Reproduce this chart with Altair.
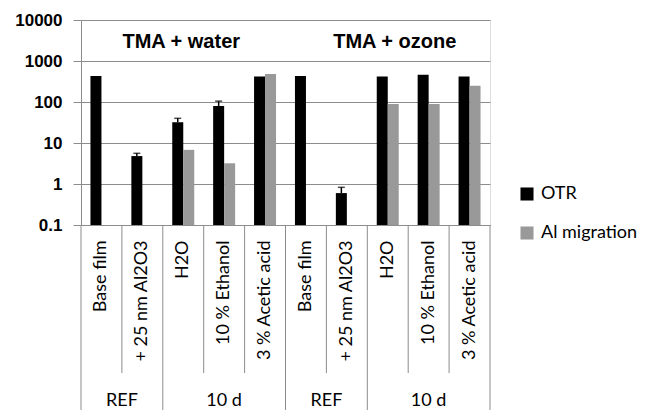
import altair as alt
import pandas as pd

# ---- data ----
cat_ids = ["w1", "w2", "w3", "w4", "w5", "o1", "o2", "o3", "o4", "o5"]
cat_labels = ["Base film", "+ 25 nm Al2O3", "H2O", "10 % Ethanol", "3 % Acetic acid",
              "Base film", "+ 25 nm Al2O3", "H2O", "10 % Ethanol", "3 % Acetic acid"]
otr = [430, 4.8, 32, 80, 420, 430, 0.6, 420, 460, 420]
al_migration = [None, None, 6.8, 3.2, 480, None, None, 90, 90, 250]
otr_err_hi = [None, 5.6, 40, 105, None, None, 0.83, None, None, None]
series = ["OTR", "Al migration"]
colors = ["#000000", "#999999"]
y_ticks = [0.1, 1, 10, 100, 1000, 10000]

# group annotations
treat_titles = ["TMA + water", "TMA + ozone"]
treat_pos = ["w3", "o3"]
group_names = ["REF", "10 d", "REF", "10 d"]
group_pos = ["w2", "w4", "o2", "o4"]
group_band = [0, 0.5, 0, 0.5]
short_div = ["w2", "w4", "w5", "o2", "o4", "o5"]
long_div = ["w1", "w3", "o1", "o3"]

# ---- tables ----
rows = []
for c, o, a in zip(cat_ids, otr, al_migration):
    rows.append({"cat": c, "series": "OTR", "value": o})
    if a is not None:
        rows.append({"cat": c, "series": "Al migration", "value": a})
bars_df = pd.DataFrame(rows)
err_df = pd.DataFrame([{"cat": c, "value": o, "hi": e}
                       for c, o, e in zip(cat_ids, otr, otr_err_hi) if e is not None])

label_expr = "[" + ",".join("'%s'" % l for l in cat_labels) + "][indexof([" + \
    ",".join("'%s'" % c for c in cat_ids) + "], datum.value)]"

LABEL_FONT = "Lato"
GRID = "#8c8c8c"

x_scale = alt.Scale(domain=cat_ids, paddingInner=0, paddingOuter=0)
y_scale = alt.Scale(type="log", domain=[0.1, 10000], nice=False)

bars = alt.Chart(bars_df).mark_bar().encode(
    x=alt.X("cat:N", scale=x_scale, sort=cat_ids,
            axis=alt.Axis(title=None, labelExpr=label_expr, labelAngle=270,
                          labelAlign="right", labelBaseline="middle",
                          labelPadding=15, ticks=False, domainColor=GRID,
                          labelFont=LABEL_FONT, labelFontSize=18, labelColor="#000")),
    xOffset=alt.XOffset("series:N", sort=series,
                        scale=alt.Scale(domain=series, paddingOuter=0.86, paddingInner=0)),
    y=alt.Y("value:Q", scale=y_scale,
            axis=alt.Axis(title=None, values=y_ticks, format="~g",
                          labelFont="Liberation Sans", labelFontWeight="bold",
                          labelFontSize=17, labelColor="#000", labelPadding=11,
                          tickSize=8, tickColor=GRID, domainColor=GRID,
                          gridColor=GRID, gridOpacity=1)),
    y2=alt.datum(0.1),
    color=alt.Color("series:N", sort=series,
                    scale=alt.Scale(domain=series, range=colors),
                    legend=alt.Legend(title=None, orient="none", legendX=437, legendY=165,
                                      symbolType="square", symbolSize=170,
                                      symbolStrokeWidth=0, labelFont=LABEL_FONT,
                                      labelFontSize=18, labelColor="#000",
                                      rowPadding=21, labelOffset=5)),
)

err_rule = alt.Chart(err_df).mark_rule(color="#000", strokeWidth=1.5, xOffset=-5.5).encode(
    x=alt.X("cat:N", scale=x_scale, sort=cat_ids),
    y=alt.Y("value:Q", scale=y_scale),
    y2="hi:Q",
)
err_cap = alt.Chart(err_df).mark_tick(color="#000", size=7, thickness=1.5, xOffset=-5.5).encode(
    x=alt.X("cat:N", scale=x_scale, sort=cat_ids),
    y=alt.Y("hi:Q", scale=y_scale),
)

short_rules = alt.Chart(pd.DataFrame({"cat": short_div})).mark_rule(
    color=GRID, strokeWidth=1).encode(
    x=alt.X("cat:N", scale=x_scale, sort=cat_ids, bandPosition=0),
    y=alt.value(205), y2=alt.value(353),
)
long_rules = alt.Chart(pd.DataFrame({"cat": long_div})).mark_rule(
    color=GRID, strokeWidth=1).encode(
    x=alt.X("cat:N", scale=x_scale, sort=cat_ids, bandPosition=0),
    y=alt.value(205), y2=alt.value(395),
)
end_rule = alt.Chart(pd.DataFrame({"cat": [cat_ids[-1]]})).mark_rule(
    color=GRID, strokeWidth=1).encode(
    x=alt.X("cat:N", scale=x_scale, sort=cat_ids, bandPosition=1),
    y=alt.value(205), y2=alt.value(395),
)

grp_df = pd.DataFrame({"cat": group_pos, "name": group_names, "band": group_band})
grp_edge = alt.Chart(grp_df[grp_df.band == 0]).mark_text(
    font=LABEL_FONT, fontSize=18, color="#000", baseline="middle").encode(
    x=alt.X("cat:N", scale=x_scale, sort=cat_ids, bandPosition=0),
    y=alt.value(381), text="name:N",
)
grp_mid = alt.Chart(grp_df[grp_df.band == 0.5]).mark_text(
    font=LABEL_FONT, fontSize=18, color="#000", baseline="middle").encode(
    x=alt.X("cat:N", scale=x_scale, sort=cat_ids, bandPosition=0.5),
    y=alt.value(381), text="name:N",
)

title_df = pd.DataFrame({"cat": treat_pos, "name": treat_titles})
title_water = alt.Chart(title_df.iloc[:1]).mark_text(
    font="Liberation Sans", fontWeight="bold", fontSize=20, color="#000",
    baseline="middle", dx=-2).encode(
    x=alt.X("cat:N", scale=x_scale, sort=cat_ids),
    y=alt.value(22), text="name:N",
)
title_ozone = alt.Chart(title_df.iloc[1:]).mark_text(
    font="Liberation Sans", fontWeight="bold", fontSize=20, color="#000",
    baseline="middle", dx=7).encode(
    x=alt.X("cat:N", scale=x_scale, sort=cat_ids),
    y=alt.value(22), text="name:N",
)

chart = alt.layer(
    bars, err_rule, err_cap, short_rules, long_rules, end_rule, grp_edge, grp_mid,
    title_water, title_ozone
).properties(
    width=409, height=205,
    autosize=alt.AutoSizeParams(type="none"),
    padding={"left": 73, "top": 12, "right": 151, "bottom": 190},
).configure_view(stroke=None).configure(background="white")

chart.save("out.html", embed_options={"renderer": "svg", "actions": False})
